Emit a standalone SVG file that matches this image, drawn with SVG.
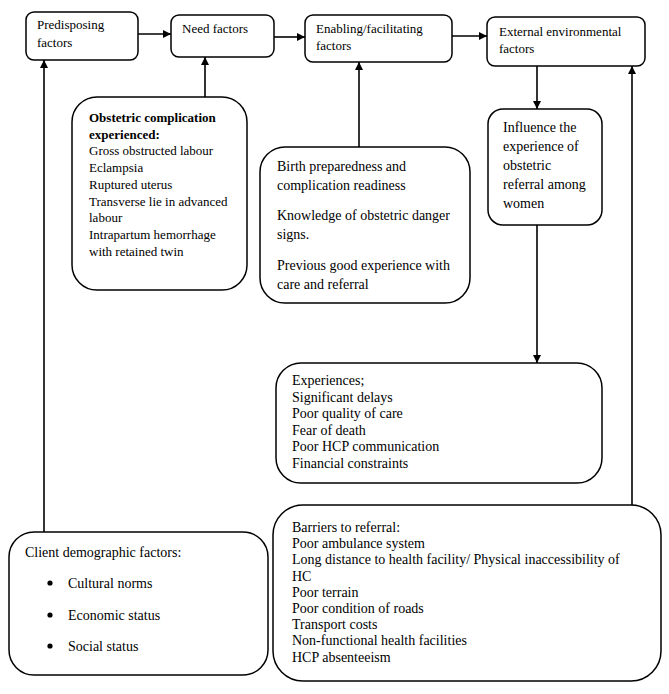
<svg xmlns="http://www.w3.org/2000/svg" width="669" height="694" viewBox="0 0 669 694">
<style>
  .box { fill: #ffffff; stroke: #000000; stroke-width: 1.5; }
  .t { font-family: "Liberation Serif", "Times New Roman", serif; fill: #000000; }
  .s13 { font-size: 13px; }
  .s14 { font-size: 14px; }
  .b { font-weight: bold; }
  .conn line { stroke: #000000; stroke-width: 1.6; fill: none; }
</style>
<defs>
  <marker id="arr" viewBox="0 0 10 10" refX="10" refY="5" markerWidth="9" markerHeight="8" markerUnits="userSpaceOnUse" orient="auto">
    <path d="M0,0 L10,5 L0,10 z" fill="#000000"/>
  </marker>
</defs>
<rect width="669" height="694" fill="#ffffff"/>

<g id="connectors" class="conn">
  <line x1="138" y1="34" x2="171" y2="34" marker-end="url(#arr)"/>
  <line x1="274" y1="37" x2="305" y2="37" marker-end="url(#arr)"/>
  <line x1="452" y1="36" x2="487" y2="36" marker-end="url(#arr)"/>
  <line x1="44" y1="532" x2="44" y2="60" marker-end="url(#arr)"/>
  <line x1="205" y1="97" x2="205" y2="57" marker-end="url(#arr)"/>
  <line x1="359" y1="147" x2="359" y2="62" marker-end="url(#arr)"/>
  <line x1="537" y1="66" x2="537" y2="109" marker-end="url(#arr)"/>
  <line x1="537" y1="225" x2="537" y2="363" marker-end="url(#arr)"/>
  <line x1="632" y1="505" x2="632" y2="66" marker-end="url(#arr)"/>
</g>

<g id="predisposing">
  <rect class="box" x="26" y="12" width="112" height="48" rx="8"/>
  <text class="t s13" x="37" y="29">Predisposing</text>
  <text class="t s13" x="37" y="47">factors</text>
</g>

<g id="need">
  <rect class="box" x="171" y="15" width="103" height="42" rx="8"/>
  <text class="t s13" x="182" y="33">Need factors</text>
</g>

<g id="enabling">
  <rect class="box" x="305" y="15" width="147" height="47" rx="8"/>
  <text class="t s13" x="316" y="33">Enabling/facilitating</text>
  <text class="t s13" x="316" y="50">factors</text>
</g>

<g id="external">
  <rect class="box" x="487" y="17" width="158" height="49" rx="8"/>
  <text class="t s13" x="499" y="36">External environmental</text>
  <text class="t s13" x="499" y="53">factors</text>
</g>

<g id="obstetric">
  <rect class="box" x="72" y="97" width="175" height="193" rx="25"/>
  <text class="t s13 b" x="89" y="122">Obstetric complication</text>
  <text class="t s13 b" x="89" y="138.7">experienced:</text>
  <text class="t s13" x="89" y="155.4">Gross obstructed labour</text>
  <text class="t s13" x="89" y="172">Eclampsia</text>
  <text class="t s13" x="89" y="188.8">Ruptured uterus</text>
  <text class="t s13" x="89" y="205.5">Transverse lie in advanced</text>
  <text class="t s13" x="89" y="222.2">labour</text>
  <text class="t s13" x="89" y="238.9">Intrapartum hemorrhage</text>
  <text class="t s13" x="89" y="255.6">with retained twin</text>
</g>

<g id="enabling-items">
  <rect class="box" x="260" y="147" width="210" height="156" rx="25"/>
  <text class="t s14" x="277" y="171">Birth preparedness and</text>
  <text class="t s14" x="277" y="190">complication readiness</text>
  <text class="t s14" x="277" y="220">Knowledge of obstetric danger</text>
  <text class="t s14" x="277" y="239">signs.</text>
  <text class="t s14" x="277" y="270">Previous good experience with</text>
  <text class="t s14" x="277" y="289">care and referral</text>
</g>

<g id="influence">
  <rect class="box" x="488" y="109" width="114" height="116" rx="15"/>
  <text class="t s14" x="503" y="132">Influence the</text>
  <text class="t s14" x="503" y="151">experience of</text>
  <text class="t s14" x="503" y="170">obstetric</text>
  <text class="t s14" x="503" y="189">referral among</text>
  <text class="t s14" x="503" y="208">women</text>
</g>

<g id="experiences">
  <rect class="box" x="276" y="363" width="326" height="120" rx="25"/>
  <text class="t s14" x="292" y="385">Experiences;</text>
  <text class="t s14" x="292" y="401.5">Significant delays</text>
  <text class="t s14" x="292" y="418">Poor quality of care</text>
  <text class="t s14" x="292" y="434.5">Fear of death</text>
  <text class="t s14" x="292" y="451">Poor HCP communication</text>
  <text class="t s14" x="292" y="467.5">Financial constraints</text>
</g>

<g id="client">
  <rect class="box" x="9" y="532" width="259" height="143" rx="25"/>
  <text class="t s14" x="25" y="557">Client demographic factors:</text>
  <circle cx="50" cy="583" r="2.6" fill="#000000"/>
  <text class="t s14" x="68" y="588">Cultural norms</text>
  <circle cx="50" cy="615" r="2.6" fill="#000000"/>
  <text class="t s14" x="68" y="620">Economic status</text>
  <circle cx="50" cy="646" r="2.6" fill="#000000"/>
  <text class="t s14" x="68" y="651">Social status</text>
</g>

<g id="barriers">
  <rect class="box" x="273" y="505" width="388" height="176" rx="30"/>
  <text class="t s14" x="292" y="532">Barriers to referral:</text>
  <text class="t s14" x="292" y="548.2">Poor ambulance system</text>
  <text class="t s14" x="292" y="564.4">Long distance to health facility/ Physical inaccessibility of</text>
  <text class="t s14" x="292" y="580.6">HC</text>
  <text class="t s14" x="292" y="596.8">Poor terrain</text>
  <text class="t s14" x="292" y="613">Poor condition of roads</text>
  <text class="t s14" x="292" y="629.2">Transport costs</text>
  <text class="t s14" x="292" y="645.4">Non-functional health facilities</text>
  <text class="t s14" x="292" y="661.6">HCP absenteeism</text>
</g>
</svg>
